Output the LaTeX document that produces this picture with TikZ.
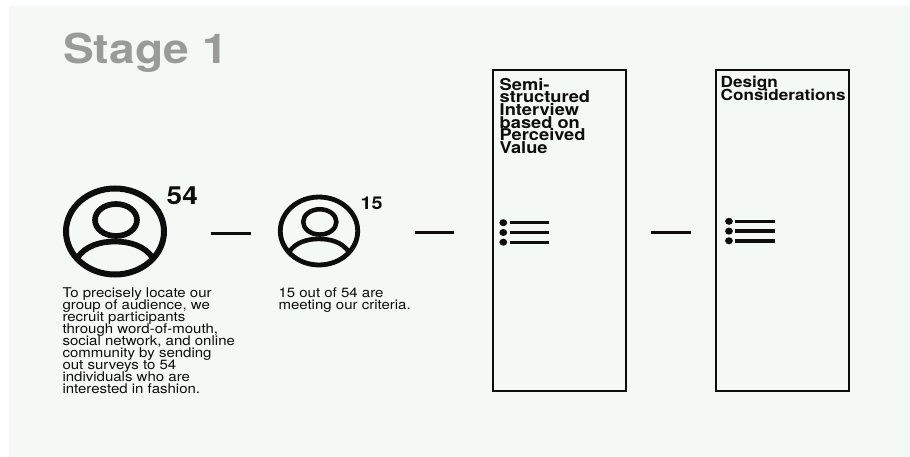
\documentclass[tikz,border=0pt]{standalone}
\usepackage{fontspec}
\usepackage{xcolor}
\setmainfont[FakeStretch=1.12]{TeX Gyre Heros}
\usetikzlibrary{calc}
\definecolor{panelbg}{HTML}{F5F9F5}
\definecolor{titlegray}{HTML}{999B99}
\definecolor{inkblack}{HTML}{0D0D0D}
\def\tightlines{\lineskiplimit=-20pt\relax}
\tikzset{
  titletext/.style={anchor=base west,inner sep=0pt,text=titlegray,font=\fontsize{41.2}{41}\selectfont\bfseries},
  bodytext/.style={anchor=north west,inner sep=0pt,align=left,text=inkblack,font=\fontsize{13.4}{11.96}\selectfont\tightlines},
  boxtitle/.style={anchor=north west,inner sep=0pt,align=left,text=inkblack,font=\fontsize{16.3}{12.6}\selectfont\bfseries\tightlines},
  countlabel/.style={anchor=base west,inner sep=0pt,text=inkblack,font=\bfseries},
  panelbox/.style={draw=inkblack,line width=2pt},
  dashline/.style={draw=inkblack,line width=3pt},
  usericon/.pic={
    \draw[inkblack,line width=#1pt] (0,0) ellipse [x radius=49,y radius=43];
    \draw[inkblack,line width=0.95*#1pt] (1,-11.5) ellipse [x radius=21,y radius=16];
    \draw[inkblack,line width=0.95*#1pt] (-38,27) .. controls (-30,14) and (-14,10) .. (0,10)
      .. controls (14,10) and (30,14) .. (38,27);
  },
  listicon/.pic={
    \foreach \yy in {0,9.8,19.5}{
      \fill[inkblack] (0,\yy) ellipse [x radius=3.9,y radius=3.5];
      \draw[inkblack,line width=3.4pt] (6.4,\yy) -- (46,\yy);
    }
  }
}
\begin{document}
\begin{tikzpicture}[x=1pt,y=-1pt]
\useasboundingbox (0,0) rectangle (910,457);
% Backdrop
\fill[panelbg] (9,6) rectangle (910,457);
\node[titletext] (stage) at (63,63.7) {Stage 1};

% People icons and their counts
\pic at (115,231.5) {usericon=6};
\pic[scale=0.79] at (319,231) {usericon=4.8};
\node[countlabel,font=\fontsize{25}{25}\selectfont\bfseries] (countA) at (166.5,204.5) {54};
\node[countlabel,font=\fontsize{17.7}{17.7}\selectfont\bfseries] (countB) at (360.5,210) {15};

% Descriptions
\node[bodytext] (descA) at (62.3,287.5) {To precisely locate our\\group of audience, we\\recruit participants\\through word-of-mouth,\\social network, and online\\community by sending\\out surveys to 54\\individuals who are\\interested in fashion.};
\node[bodytext] (descB) at (278.3,287.5) {15 out of 54 are\\meeting our criteria.};

% Tall boxes
\draw[panelbox] (493,70.5) rectangle (626,390.5);
\draw[panelbox] (716,70.5) rectangle (849,390.5);
\node[boxtitle] (semi) at (499.5,78) {Semi-\\structured\\Interview\\based on\\Perceived\\Value};
\node[boxtitle,font=\fontsize{15.3}{13.9}\selectfont\bfseries\tightlines] (design) at (720.5,75.5) {Design\\Considerations};
\pic at (503.3,222.7) {listicon};
\pic at (729,221.3) {listicon};

% Dashes between the stages
\coordinate (dashAa) at (211,233.3);
\coordinate (dashAb) at (251,233.3);
\coordinate (dashBa) at (415,232.5);
\coordinate (dashBb) at (454,232.5);
\coordinate (dashCa) at (651,232.5);
\coordinate (dashCb) at (691,232.5);
\draw[dashline] (dashAa) -- (dashAb);
\draw[dashline] (dashBa) -- (dashBb);
\draw[dashline] (dashCa) -- (dashCb);
\end{tikzpicture}
\end{document}
